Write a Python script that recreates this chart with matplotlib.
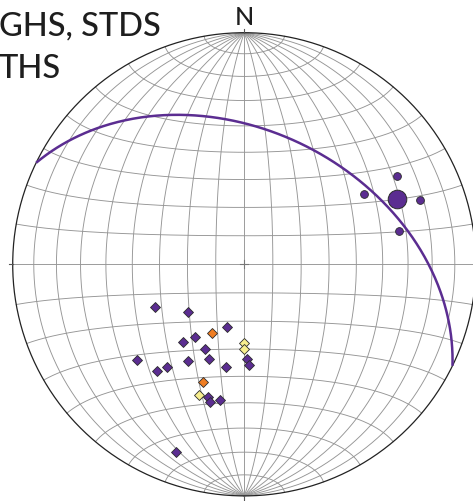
import numpy as np
import matplotlib
matplotlib.use("Agg")
import matplotlib.pyplot as plt

# ---- data (trend, plunge in degrees; lower-hemisphere equal-area net) ----
# lineations: mean (large dot) and individual measurements
mean_trend, mean_plunge = 66.9, 28.9
lin_trend = [59.9, 59.7, 69.9, 77.9]
lin_plunge = [24.9, 39.9, 20.2, 32.1]

# poles, purple group
pur_trend = [244.2, 230.1, 195.6, 214.3, 218.2, 205.0, 228.2, 210.2, 200.2,
             178.5, 177.2, 190.1, 216.9, 219.2, 195.2, 194.0, 190.2, 200.0]
pur_plunge = [54.9, 63.9, 67.0, 59.0, 55.0, 57.0, 38.0, 50.2, 54.0,
              56.3, 54.0, 52.9, 43.9, 40.1, 40.2, 38.8, 40.2, 14.85]

# poles, orange group
org_trend = [205.3, 199.2]
org_plunge = [63.1, 45.1]

# poles, yellow group
yel_trend = [180.0, 180.0, 199.2]
yel_plunge = [62.2, 60.1, 40.0]

# great circle (dip direction, dip)
plane_dipdir, plane_dip = 26.0, 42.0

title_lines = ["GHS, STDS", "THS"]
north_label = "N"

PURPLE = "#5b2d91"
ORANGE = "#ef7d22"
YELLOW = "#f7ee8e"
EDGE = "#2b2b2b"
GRID = "#959595"


def lambert(east, north, down):
    k = 1.0 / np.sqrt(1.0 + down)
    return east * k, north * k


def project(trend, plunge):
    t = np.radians(np.asarray(trend, float))
    p = np.radians(np.asarray(plunge, float))
    return lambert(np.cos(p) * np.sin(t), np.cos(p) * np.cos(t), np.sin(p))


W, H = 473, 501
fig = plt.figure(figsize=(W / 100, H / 100), dpi=100)
cx, cy, R = 244.3, 264.3, 231.6
ax = fig.add_axes([(cx - R) / W, (H - cy - R) / H, 2 * R / W, 2 * R / H])
ax.set_xlim(-1, 1)
ax.set_ylim(-1, 1)
ax.axis("off")

# Schmidt net: meridians and small circles at 10 degree spacing
phi = np.radians(np.linspace(-90, 90, 361))
for lam_deg in range(-80, 90, 10):
    lam = np.radians(lam_deg)
    x, y = lambert(np.cos(phi) * np.sin(lam), np.sin(phi), np.cos(phi) * np.cos(lam))
    ax.plot(x, y, color=GRID, lw=0.65, zorder=1, clip_on=False)
lam = np.radians(np.linspace(-90, 90, 361))
for phi_deg in range(-80, 90, 10):
    ph = np.radians(phi_deg)
    x, y = lambert(np.cos(ph) * np.sin(lam), np.full_like(lam, np.sin(ph)), np.cos(ph) * np.cos(lam))
    ax.plot(x, y, color=GRID, lw=0.65, zorder=1, clip_on=False)

# primitive circle, ticks and centre cross
a = np.linspace(0, 2 * np.pi, 721)
ax.plot(np.cos(a), np.sin(a), color="#222222", lw=0.9, zorder=2, clip_on=False)
tk = 0.018
for (x0, y0, x1, y1) in [(-1 - tk, 0, -1, 0), (1, 0, 1 + tk, 0),
                         (0, 1, 0, 1 + tk), (0, -1 - tk, 0, -1)]:
    ax.plot([x0, x1], [y0, y1], color="#555555", lw=0.8, zorder=2, clip_on=False)
ax.plot([-tk, tk], [0, 0], color="#777777", lw=0.8, zorder=2)
ax.plot([0, 0], [-tk, tk], color="#777777", lw=0.8, zorder=2)

# great circle
dd, dip = np.radians(plane_dipdir), np.radians(plane_dip)
s_vec = np.array([np.sin(dd - np.pi / 2), np.cos(dd - np.pi / 2), 0.0])
d_vec = np.array([np.cos(dip) * np.sin(dd), np.cos(dip) * np.cos(dd), np.sin(dip)])
ang = np.linspace(0, np.pi, 361)
v = np.outer(np.cos(ang), s_vec) + np.outer(np.sin(ang), d_vec)
gx, gy = lambert(v[:, 0], v[:, 1], np.clip(v[:, 2], 0, None))
ax.plot(gx, gy, color=PURPLE, lw=1.8, zorder=3, clip_on=False, solid_capstyle="butt")

# poles (diamonds)
for tr, pl, col in [(pur_trend, pur_plunge, PURPLE),
                    (org_trend, org_plunge, ORANGE),
                    (yel_trend, yel_plunge, YELLOW)]:
    x, y = project(tr, pl)
    ax.plot(x, y, "D", ms=5.0, mfc=col, mec=EDGE, mew=0.6, ls="none", zorder=4)

# lineations
x, y = project(lin_trend, lin_plunge)
ax.plot(x, y, "o", ms=5.6, mfc=PURPLE, mec=EDGE, mew=0.6, ls="none", zorder=4)
x, y = project([mean_trend], [mean_plunge])
ax.plot(x, y, "o", ms=13.4, mfc=PURPLE, mec=EDGE, mew=0.7, ls="none", zorder=5)

# labels
fig.text(cx / W, 1 - 25 / H, north_label, ha="center", va="baseline",
         fontsize=18, family="Lato", fontweight="medium", color="#1e1e1e")
fig.text(-1 / W, 1 - 35 / H, title_lines[0], ha="left", va="baseline",
         fontsize=23.5, family="Lato", fontweight="medium", color="#1e1e1e")
fig.text(-1 / W, 1 - 78 / H, title_lines[1], ha="left", va="baseline",
         fontsize=23.5, family="Lato", fontweight="medium", color="#1e1e1e")

fig.savefig("out.png", dpi=100)
